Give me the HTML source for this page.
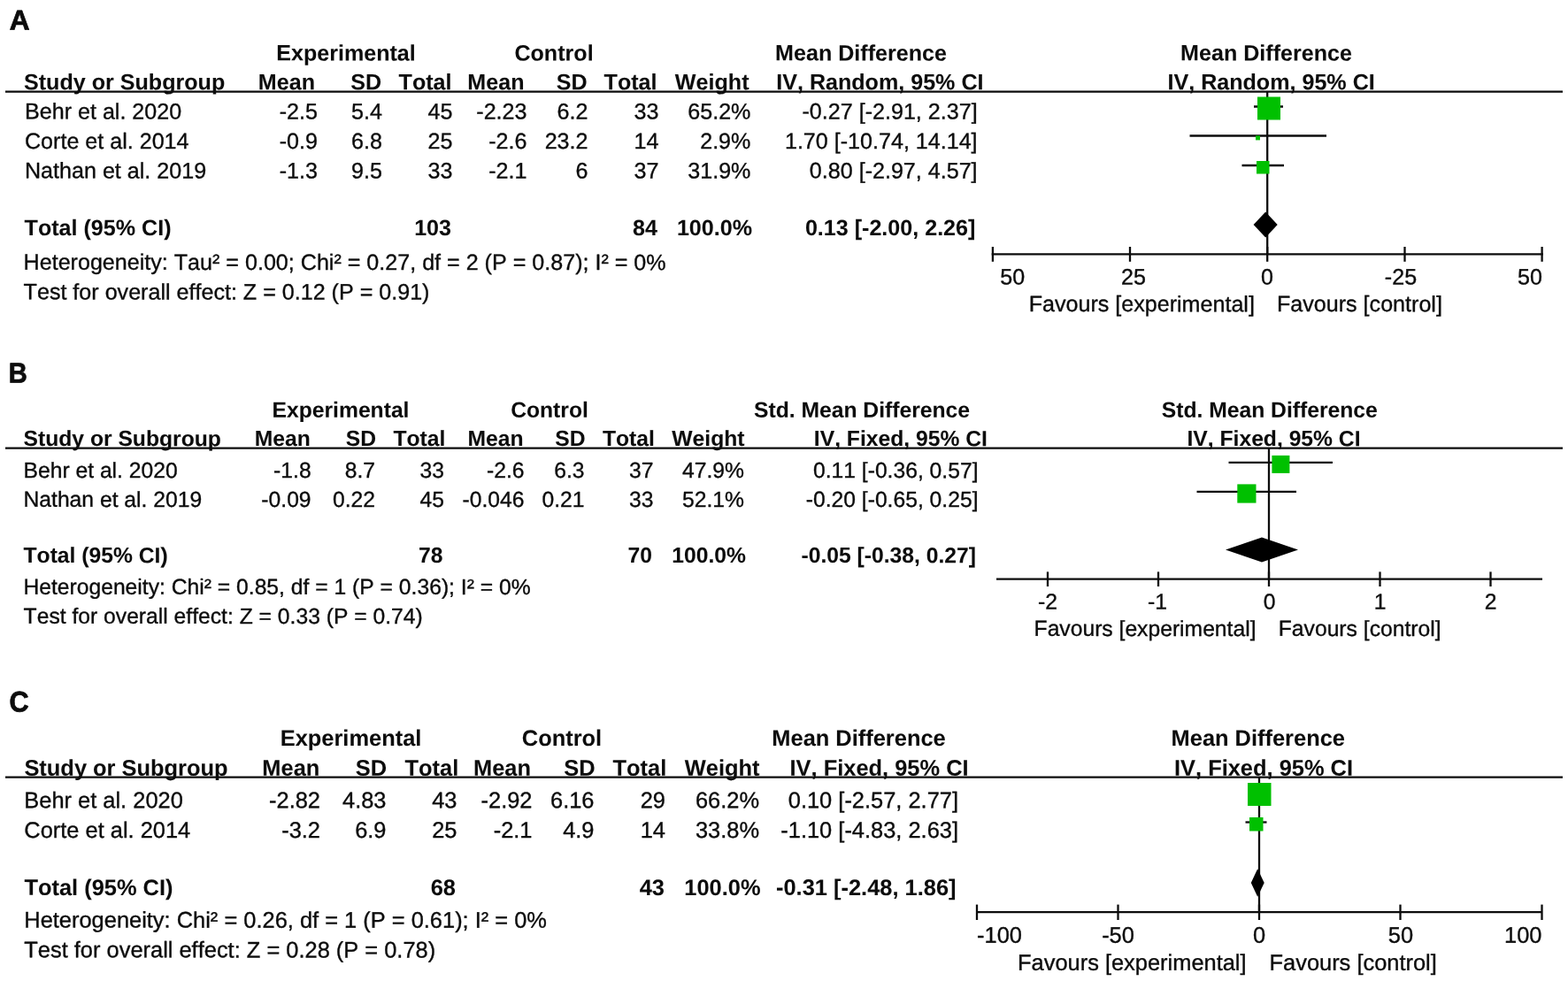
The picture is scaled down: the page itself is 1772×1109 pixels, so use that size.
<!DOCTYPE html>
<html lang="en">
<head>
<meta charset="utf-8">
<title>Forest plots</title>
<style>
html,body{margin:0;padding:0;background:#fff;}
body{width:1772px;height:1109px;overflow:hidden;}
svg{display:block;font-family:"Liberation Sans",Arial,Helvetica,sans-serif;}
text{fill:#0c0c0c;stroke:#0c0c0c;stroke-width:0.36px;stroke-linejoin:round;font-kerning:none;font-variant-ligatures:none;}
text.b{font-weight:700;stroke:#0c0c0c;stroke-width:0.06px;}
text.lab{font-weight:700;stroke:#0c0c0c;stroke-width:0.75px;}
</style>
</head>
<body>
<svg width="1772" height="1109" viewBox="0 0 1772 1109">
<rect x="0" y="0" width="1772" height="1109" fill="#ffffff"/>
<g id="panelA">
<text transform="matrix(1.0 0.0005 0 1.0 10.8 33.5)" font-size="31.6" class="lab">A</text>
<text transform="matrix(1 0.0005 0 1.0 391 68.4)" font-size="25.1" class="b" text-anchor="middle">Experimental</text>
<text transform="matrix(1 0.0005 0 1.0 626 68.4)" font-size="25.1" class="b" text-anchor="middle">Control</text>
<text transform="matrix(1 0.0005 0 1.0 973 68.4)" font-size="25.1" class="b" text-anchor="middle">Mean Difference</text>
<text transform="matrix(1 0.0005 0 1.0 1431 68.4)" font-size="25.1" class="b" text-anchor="middle">Mean Difference</text>
<text transform="matrix(1 0.0005 0 1.0 27 101.25)" font-size="25.1" class="b">Study or Subgroup</text>
<text transform="matrix(1 0.0005 0 1.0 356 101.31)" font-size="25.1" class="b" text-anchor="end">Mean</text>
<text transform="matrix(1 0.0005 0 1.0 431 101.31)" font-size="25.1" class="b" text-anchor="end">SD</text>
<text transform="matrix(1 0.0005 0 1.0 510.5 101.32)" font-size="25.1" class="b" text-anchor="end">Total</text>
<text transform="matrix(1 0.0005 0 1.0 592.5 101.31)" font-size="25.1" class="b" text-anchor="end">Mean</text>
<text transform="matrix(1 0.0005 0 1.0 663.5 101.31)" font-size="25.1" class="b" text-anchor="end">SD</text>
<text transform="matrix(1 0.0005 0 1.0 742.5 101.32)" font-size="25.1" class="b" text-anchor="end">Total</text>
<text transform="matrix(1 0.0005 0 1.0 846.5 101.32)" font-size="25.1" class="b" text-anchor="end">Weight</text>
<text transform="matrix(1 0.0005 0 1.0 1111.5 101.36)" font-size="25.1" class="b" text-anchor="end">IV, Random, 95% CI</text>
<text transform="matrix(1 0.0005 0 1.0 1436.6 101.3)" font-size="25.1" class="b" text-anchor="middle">IV, Random, 95% CI</text>
<line x1="6" y1="103.7" x2="1766" y2="103.7" stroke="#0c0c0c" stroke-width="2.2"/>
<text transform="matrix(1 0.0005 0 1.0 28 134.35)" font-size="25.1">Behr et al. 2020</text>
<text transform="matrix(1 0.0005 0 1.0 359 134.41)" font-size="25.1" text-anchor="end">-2.5</text>
<text transform="matrix(1 0.0005 0 1.0 432 134.41)" font-size="25.1" text-anchor="end">5.4</text>
<text transform="matrix(1 0.0005 0 1.0 511.5 134.41)" font-size="25.1" text-anchor="end">45</text>
<text transform="matrix(1 0.0005 0 1.0 595.5 134.42)" font-size="25.1" text-anchor="end">-2.23</text>
<text transform="matrix(1 0.0005 0 1.0 664.5 134.41)" font-size="25.1" text-anchor="end">6.2</text>
<text transform="matrix(1 0.0005 0 1.0 744.5 134.41)" font-size="25.1" text-anchor="end">33</text>
<text transform="matrix(1 0.0005 0 1.0 848.4 134.42)" font-size="25.1" text-anchor="end">65.2%</text>
<text transform="matrix(1 0.0005 0 1.0 1104.6 134.46)" font-size="25.1" text-anchor="end">-0.27 [-2.91, 2.37]</text>
<text transform="matrix(1 0.0005 0 1.0 28 167.95)" font-size="25.1">Corte et al. 2014</text>
<text transform="matrix(1 0.0005 0 1.0 359 168.01)" font-size="25.1" text-anchor="end">-0.9</text>
<text transform="matrix(1 0.0005 0 1.0 432 168.01)" font-size="25.1" text-anchor="end">6.8</text>
<text transform="matrix(1 0.0005 0 1.0 511.5 168.01)" font-size="25.1" text-anchor="end">25</text>
<text transform="matrix(1 0.0005 0 1.0 595.5 168.01)" font-size="25.1" text-anchor="end">-2.6</text>
<text transform="matrix(1 0.0005 0 1.0 664.5 168.01)" font-size="25.1" text-anchor="end">23.2</text>
<text transform="matrix(1 0.0005 0 1.0 744.5 168.01)" font-size="25.1" text-anchor="end">14</text>
<text transform="matrix(1 0.0005 0 1.0 848.4 168.01)" font-size="25.1" text-anchor="end">2.9%</text>
<text transform="matrix(1 0.0005 0 1.0 1104.6 168.06)" font-size="25.1" text-anchor="end">1.70 [-10.74, 14.14]</text>
<text transform="matrix(1 0.0005 0 1.0 28 201.34)" font-size="25.1">Nathan et al. 2019</text>
<text transform="matrix(1 0.0005 0 1.0 359 201.41)" font-size="25.1" text-anchor="end">-1.3</text>
<text transform="matrix(1 0.0005 0 1.0 432 201.41)" font-size="25.1" text-anchor="end">9.5</text>
<text transform="matrix(1 0.0005 0 1.0 511.5 201.41)" font-size="25.1" text-anchor="end">33</text>
<text transform="matrix(1 0.0005 0 1.0 595.5 201.41)" font-size="25.1" text-anchor="end">-2.1</text>
<text transform="matrix(1 0.0005 0 1.0 664.5 201.4)" font-size="25.1" text-anchor="end">6</text>
<text transform="matrix(1 0.0005 0 1.0 744.5 201.41)" font-size="25.1" text-anchor="end">37</text>
<text transform="matrix(1 0.0005 0 1.0 848.4 201.42)" font-size="25.1" text-anchor="end">31.9%</text>
<text transform="matrix(1 0.0005 0 1.0 1104.6 201.46)" font-size="25.1" text-anchor="end">0.80 [-2.97, 4.57]</text>
<text transform="matrix(1 0.0005 0 1.0 27.6 265.96)" font-size="25.1" class="b">Total (95% CI)</text>
<text transform="matrix(1 0.0005 0 1.0 510 266.01)" font-size="25.1" class="b" text-anchor="end">103</text>
<text transform="matrix(1 0.0005 0 1.0 743 266.01)" font-size="25.1" class="b" text-anchor="end">84</text>
<text transform="matrix(1 0.0005 0 1.0 850 266.02)" font-size="25.1" class="b" text-anchor="end">100.0%</text>
<text transform="matrix(1 0.0005 0 1.0 1102.4 266.06)" font-size="25.1" class="b" text-anchor="end">0.13 [-2.00, 2.26]</text>
<text transform="matrix(1 0.0005 0 1.0 26.6 304.79)" font-size="25.1">Heterogeneity: Tau² = 0.00; Chi² = 0.27, df = 2 (P = 0.87); I² = 0%</text>
<text transform="matrix(1 0.0005 0 1.0 26.6 338.36)" font-size="25.1">Test for overall effect: Z = 0.12 (P = 0.91)</text>
<line x1="1417" y1="120.5" x2="1450" y2="120.5" stroke="#0c0c0c" stroke-width="2.3"/>
<line x1="1344.5" y1="153.5" x2="1499" y2="153.5" stroke="#0c0c0c" stroke-width="2.3"/>
<line x1="1403.5" y1="187" x2="1451" y2="187" stroke="#0c0c0c" stroke-width="2.3"/>
<line x1="1432.2" y1="103.7" x2="1432.2" y2="287.3" stroke="#0c0c0c" stroke-width="2.3"/>
<line x1="1120.7" y1="287.3" x2="1743.8" y2="287.3" stroke="#0c0c0c" stroke-width="2.3"/>
<line x1="1121.9" y1="279" x2="1121.9" y2="295.8" stroke="#0c0c0c" stroke-width="2.3"/>
<line x1="1277" y1="279" x2="1277" y2="295.8" stroke="#0c0c0c" stroke-width="2.3"/>
<line x1="1432.2" y1="279" x2="1432.2" y2="295.8" stroke="#0c0c0c" stroke-width="2.3"/>
<line x1="1587.5" y1="279" x2="1587.5" y2="295.8" stroke="#0c0c0c" stroke-width="2.3"/>
<line x1="1742.6" y1="279" x2="1742.6" y2="295.8" stroke="#0c0c0c" stroke-width="2.3"/>
<rect x="1421" y="109.5" width="26" height="26" fill="#00c000"/>
<rect x="1419" y="153.4" width="5" height="5" fill="#00c000"/>
<rect x="1420" y="182" width="14.5" height="14.5" fill="#00c000"/>
<polygon points="1416.6,254.1 1430.2,239.6 1443.7,254.1 1430.2,268.6" fill="#000"/>
<text transform="matrix(1 0.0005 0 1.0 1130.2 321.59)" font-size="25.1">50</text>
<text transform="matrix(1 0.0005 0 1.0 1281 321.6)" font-size="25.1" text-anchor="middle">25</text>
<text transform="matrix(1 0.0005 0 1.0 1432 321.6)" font-size="25.1" text-anchor="middle">0</text>
<text transform="matrix(1 0.0005 0 1.0 1583 321.6)" font-size="25.1" text-anchor="middle">-25</text>
<text transform="matrix(1 0.0005 0 1.0 1743 321.61)" font-size="25.1" text-anchor="end">50</text>
<text transform="matrix(1 0.0005 0 1.0 1417.9 352.17)" font-size="25.1" text-anchor="end">Favours [experimental]</text>
<text transform="matrix(1 0.0005 0 1.0 1443 352.05)" font-size="25.1">Favours [control]</text>
</g>
<g id="panelB">
<text transform="matrix(0.91 0.0005 0 1.0 9.8 432.5)" font-size="32.0" class="lab">B</text>
<text transform="matrix(1 0.0005 0 1.0 385 471.7)" font-size="24.68" class="b" text-anchor="middle">Experimental</text>
<text transform="matrix(1 0.0005 0 1.0 621 471.7)" font-size="24.68" class="b" text-anchor="middle">Control</text>
<text transform="matrix(1 0.0005 0 1.0 974 471.7)" font-size="24.68" class="b" text-anchor="middle">Std. Mean Difference</text>
<text transform="matrix(1 0.0005 0 1.0 1434.75 471.7)" font-size="24.68" class="b" text-anchor="middle">Std. Mean Difference</text>
<text transform="matrix(1 0.0005 0 1.0 26.5 504.05)" font-size="24.68" class="b">Study or Subgroup</text>
<text transform="matrix(1 0.0005 0 1.0 350.9 504.11)" font-size="24.68" class="b" text-anchor="end">Mean</text>
<text transform="matrix(1 0.0005 0 1.0 425.1 504.11)" font-size="24.68" class="b" text-anchor="end">SD</text>
<text transform="matrix(1 0.0005 0 1.0 503.4 504.12)" font-size="24.68" class="b" text-anchor="end">Total</text>
<text transform="matrix(1 0.0005 0 1.0 591.5 504.11)" font-size="24.68" class="b" text-anchor="end">Mean</text>
<text transform="matrix(1 0.0005 0 1.0 661.5 504.11)" font-size="24.68" class="b" text-anchor="end">SD</text>
<text transform="matrix(1 0.0005 0 1.0 739.9 504.12)" font-size="24.68" class="b" text-anchor="end">Total</text>
<text transform="matrix(1 0.0005 0 1.0 841.5 504.12)" font-size="24.68" class="b" text-anchor="end">Weight</text>
<text transform="matrix(1 0.0005 0 1.0 1115.9 504.15)" font-size="24.68" class="b" text-anchor="end">IV, Fixed, 95% CI</text>
<text transform="matrix(1 0.0005 0 1.0 1439.5 504.1)" font-size="24.68" class="b" text-anchor="middle">IV, Fixed, 95% CI</text>
<line x1="6" y1="506.7" x2="1766" y2="506.7" stroke="#0c0c0c" stroke-width="2.2"/>
<text transform="matrix(1 0.0005 0 1.0 26.5 540.05)" font-size="24.68">Behr et al. 2020</text>
<text transform="matrix(1 0.0005 0 1.0 351.6 540.11)" font-size="24.68" text-anchor="end">-1.8</text>
<text transform="matrix(1 0.0005 0 1.0 424 540.11)" font-size="24.68" text-anchor="end">8.7</text>
<text transform="matrix(1 0.0005 0 1.0 502 540.11)" font-size="24.68" text-anchor="end">33</text>
<text transform="matrix(1 0.0005 0 1.0 592.5 540.11)" font-size="24.68" text-anchor="end">-2.6</text>
<text transform="matrix(1 0.0005 0 1.0 660.5 540.11)" font-size="24.68" text-anchor="end">6.3</text>
<text transform="matrix(1 0.0005 0 1.0 738.5 540.11)" font-size="24.68" text-anchor="end">37</text>
<text transform="matrix(1 0.0005 0 1.0 841 540.12)" font-size="24.68" text-anchor="end">47.9%</text>
<text transform="matrix(1 0.0005 0 1.0 1105.5 540.16)" font-size="24.68" text-anchor="end">0.11 [-0.36, 0.57]</text>
<text transform="matrix(1 0.0005 0 1.0 26.5 572.84)" font-size="24.68">Nathan et al. 2019</text>
<text transform="matrix(1 0.0005 0 1.0 351.6 572.92)" font-size="24.68" text-anchor="end">-0.09</text>
<text transform="matrix(1 0.0005 0 1.0 424 572.91)" font-size="24.68" text-anchor="end">0.22</text>
<text transform="matrix(1 0.0005 0 1.0 502 572.91)" font-size="24.68" text-anchor="end">45</text>
<text transform="matrix(1 0.0005 0 1.0 592.5 572.92)" font-size="24.68" text-anchor="end">-0.046</text>
<text transform="matrix(1 0.0005 0 1.0 660.5 572.91)" font-size="24.68" text-anchor="end">0.21</text>
<text transform="matrix(1 0.0005 0 1.0 738.5 572.91)" font-size="24.68" text-anchor="end">33</text>
<text transform="matrix(1 0.0005 0 1.0 841 572.92)" font-size="24.68" text-anchor="end">52.1%</text>
<text transform="matrix(1 0.0005 0 1.0 1105.5 572.96)" font-size="24.68" text-anchor="end">-0.20 [-0.65, 0.25]</text>
<text transform="matrix(1 0.0005 0 1.0 26.5 636.06)" font-size="24.68" class="b">Total (95% CI)</text>
<text transform="matrix(1 0.0005 0 1.0 500.5 636.11)" font-size="24.68" class="b" text-anchor="end">78</text>
<text transform="matrix(1 0.0005 0 1.0 737 636.11)" font-size="24.68" class="b" text-anchor="end">70</text>
<text transform="matrix(1 0.0005 0 1.0 843 636.12)" font-size="24.68" class="b" text-anchor="end">100.0%</text>
<text transform="matrix(1 0.0005 0 1.0 1103 636.16)" font-size="24.68" class="b" text-anchor="end">-0.05 [-0.38, 0.27]</text>
<text transform="matrix(1 0.0005 0 1.0 26.4 671.63)" font-size="24.68">Heterogeneity: Chi² = 0.85, df = 1 (P = 0.36); I² = 0%</text>
<text transform="matrix(1 0.0005 0 1.0 26.6 704.76)" font-size="24.68">Test for overall effect: Z = 0.33 (P = 0.74)</text>
<line x1="1388.5" y1="522.8" x2="1506" y2="522.8" stroke="#0c0c0c" stroke-width="2.3"/>
<line x1="1352.5" y1="555.9" x2="1465" y2="555.9" stroke="#0c0c0c" stroke-width="2.3"/>
<line x1="1434" y1="506.7" x2="1434" y2="654.6" stroke="#0c0c0c" stroke-width="2.3"/>
<line x1="1126" y1="654.6" x2="1743" y2="654.6" stroke="#0c0c0c" stroke-width="2.3"/>
<line x1="1184" y1="646.4" x2="1184" y2="663" stroke="#0c0c0c" stroke-width="2.3"/>
<line x1="1309" y1="646.4" x2="1309" y2="663" stroke="#0c0c0c" stroke-width="2.3"/>
<line x1="1434" y1="646.4" x2="1434" y2="663" stroke="#0c0c0c" stroke-width="2.3"/>
<line x1="1559.5" y1="646.4" x2="1559.5" y2="663" stroke="#0c0c0c" stroke-width="2.3"/>
<line x1="1684.5" y1="646.4" x2="1684.5" y2="663" stroke="#0c0c0c" stroke-width="2.3"/>
<rect x="1437.4" y="514.9" width="20" height="20" fill="#00c000"/>
<rect x="1398.3" y="547.4" width="21.2" height="21.2" fill="#00c000"/>
<polygon points="1385,621.5 1426,607.5 1467,621.5 1426,635.5" fill="#000"/>
<text transform="matrix(1 0.0005 0 1.0 1183.9 688.5)" font-size="24.68" text-anchor="middle">-2</text>
<text transform="matrix(1 0.0005 0 1.0 1308 688.5)" font-size="24.68" text-anchor="middle">-1</text>
<text transform="matrix(1 0.0005 0 1.0 1434.5 688.5)" font-size="24.68" text-anchor="middle">0</text>
<text transform="matrix(1 0.0005 0 1.0 1559.5 688.5)" font-size="24.68" text-anchor="middle">1</text>
<text transform="matrix(1 0.0005 0 1.0 1684.5 688.5)" font-size="24.68" text-anchor="middle">2</text>
<text transform="matrix(1 0.0005 0 1.0 1419.5 718.97)" font-size="24.68" text-anchor="end">Favours [experimental]</text>
<text transform="matrix(1 0.0005 0 1.0 1444.8 718.85)" font-size="24.68">Favours [control]</text>
</g>
<g id="panelC">
<text transform="matrix(0.938 0.0005 0 1.0 10.56 804.4)" font-size="32.7" class="lab">C</text>
<text transform="matrix(1 0.0005 0 1.0 396.5 843.0)" font-size="25.43" class="b" text-anchor="middle">Experimental</text>
<text transform="matrix(1 0.0005 0 1.0 635 843.0)" font-size="25.43" class="b" text-anchor="middle">Control</text>
<text transform="matrix(1 0.0005 0 1.0 970.5 843.0)" font-size="25.43" class="b" text-anchor="middle">Mean Difference</text>
<text transform="matrix(1 0.0005 0 1.0 1421.75 843.0)" font-size="25.43" class="b" text-anchor="middle">Mean Difference</text>
<text transform="matrix(1 0.0005 0 1.0 27.4 876.75)" font-size="25.43" class="b">Study or Subgroup</text>
<text transform="matrix(1 0.0005 0 1.0 361.3 876.81)" font-size="25.43" class="b" text-anchor="end">Mean</text>
<text transform="matrix(1 0.0005 0 1.0 437.2 876.81)" font-size="25.43" class="b" text-anchor="end">SD</text>
<text transform="matrix(1 0.0005 0 1.0 518.2 876.82)" font-size="25.43" class="b" text-anchor="end">Total</text>
<text transform="matrix(1 0.0005 0 1.0 600 876.81)" font-size="25.43" class="b" text-anchor="end">Mean</text>
<text transform="matrix(1 0.0005 0 1.0 672.5 876.81)" font-size="25.43" class="b" text-anchor="end">SD</text>
<text transform="matrix(1 0.0005 0 1.0 753.3 876.82)" font-size="25.43" class="b" text-anchor="end">Total</text>
<text transform="matrix(1 0.0005 0 1.0 858.5 876.82)" font-size="25.43" class="b" text-anchor="end">Weight</text>
<text transform="matrix(1 0.0005 0 1.0 1094.6 876.85)" font-size="25.43" class="b" text-anchor="end">IV, Fixed, 95% CI</text>
<text transform="matrix(1 0.0005 0 1.0 1428 876.8)" font-size="25.43" class="b" text-anchor="middle">IV, Fixed, 95% CI</text>
<line x1="6" y1="878.7" x2="1766" y2="878.7" stroke="#0c0c0c" stroke-width="2.2"/>
<text transform="matrix(1 0.0005 0 1.0 27.3 913.25)" font-size="25.43">Behr et al. 2020</text>
<text transform="matrix(1 0.0005 0 1.0 362 913.32)" font-size="25.43" text-anchor="end">-2.82</text>
<text transform="matrix(1 0.0005 0 1.0 436.5 913.31)" font-size="25.43" text-anchor="end">4.83</text>
<text transform="matrix(1 0.0005 0 1.0 516.5 913.31)" font-size="25.43" text-anchor="end">43</text>
<text transform="matrix(1 0.0005 0 1.0 601.5 913.32)" font-size="25.43" text-anchor="end">-2.92</text>
<text transform="matrix(1 0.0005 0 1.0 671.5 913.31)" font-size="25.43" text-anchor="end">6.16</text>
<text transform="matrix(1 0.0005 0 1.0 752 913.31)" font-size="25.43" text-anchor="end">29</text>
<text transform="matrix(1 0.0005 0 1.0 858 913.32)" font-size="25.43" text-anchor="end">66.2%</text>
<text transform="matrix(1 0.0005 0 1.0 1083 913.36)" font-size="25.43" text-anchor="end">0.10 [-2.57, 2.77]</text>
<text transform="matrix(1 0.0005 0 1.0 27.3 946.95)" font-size="25.43">Corte et al. 2014</text>
<text transform="matrix(1 0.0005 0 1.0 362 947.01)" font-size="25.43" text-anchor="end">-3.2</text>
<text transform="matrix(1 0.0005 0 1.0 436.5 947.01)" font-size="25.43" text-anchor="end">6.9</text>
<text transform="matrix(1 0.0005 0 1.0 516.5 947.01)" font-size="25.43" text-anchor="end">25</text>
<text transform="matrix(1 0.0005 0 1.0 601.5 947.01)" font-size="25.43" text-anchor="end">-2.1</text>
<text transform="matrix(1 0.0005 0 1.0 671.5 947.01)" font-size="25.43" text-anchor="end">4.9</text>
<text transform="matrix(1 0.0005 0 1.0 752 947.01)" font-size="25.43" text-anchor="end">14</text>
<text transform="matrix(1 0.0005 0 1.0 858 947.02)" font-size="25.43" text-anchor="end">33.8%</text>
<text transform="matrix(1 0.0005 0 1.0 1083 947.06)" font-size="25.43" text-anchor="end">-1.10 [-4.83, 2.63]</text>
<text transform="matrix(1 0.0005 0 1.0 27.4 1011.86)" font-size="25.43" class="b">Total (95% CI)</text>
<text transform="matrix(1 0.0005 0 1.0 515 1011.91)" font-size="25.43" class="b" text-anchor="end">68</text>
<text transform="matrix(1 0.0005 0 1.0 751 1011.91)" font-size="25.43" class="b" text-anchor="end">43</text>
<text transform="matrix(1 0.0005 0 1.0 859.5 1011.92)" font-size="25.43" class="b" text-anchor="end">100.0%</text>
<text transform="matrix(1 0.0005 0 1.0 1080.5 1011.96)" font-size="25.43" class="b" text-anchor="end">-0.31 [-2.48, 1.86]</text>
<text transform="matrix(1 0.0005 0 1.0 27.3 1048.53)" font-size="25.43">Heterogeneity: Chi² = 0.26, df = 1 (P = 0.61); I² = 0%</text>
<text transform="matrix(1 0.0005 0 1.0 27.3 1082.26)" font-size="25.43">Test for overall effect: Z = 0.28 (P = 0.78)</text>
<line x1="1407.5" y1="929.5" x2="1431.5" y2="929.5" stroke="#0c0c0c" stroke-width="2.3"/>
<line x1="1423" y1="878.7" x2="1423" y2="1031.2" stroke="#0c0c0c" stroke-width="2.3"/>
<line x1="1104" y1="1031.2" x2="1742.5" y2="1031.2" stroke="#0c0c0c" stroke-width="2.3"/>
<line x1="1104" y1="1022.6" x2="1104" y2="1040" stroke="#0c0c0c" stroke-width="2.3"/>
<line x1="1263.5" y1="1022.6" x2="1263.5" y2="1040" stroke="#0c0c0c" stroke-width="2.3"/>
<line x1="1423" y1="1022.6" x2="1423" y2="1040" stroke="#0c0c0c" stroke-width="2.3"/>
<line x1="1582.5" y1="1022.6" x2="1582.5" y2="1040" stroke="#0c0c0c" stroke-width="2.3"/>
<line x1="1742.5" y1="1022.6" x2="1742.5" y2="1040" stroke="#0c0c0c" stroke-width="2.3"/>
<rect x="1410" y="885" width="26.5" height="26" fill="#00c000"/>
<rect x="1412" y="924" width="15.5" height="15.5" fill="#00c000"/>
<polygon points="1413.8,998 1421.2,982.3 1428.7,998 1421.2,1013.8" fill="#000"/>
<text transform="matrix(1 0.0005 0 1.0 1104.1 1065.69)" font-size="25.43">-100</text>
<text transform="matrix(1 0.0005 0 1.0 1263.5 1065.7)" font-size="25.43" text-anchor="middle">-50</text>
<text transform="matrix(1 0.0005 0 1.0 1423 1065.7)" font-size="25.43" text-anchor="middle">0</text>
<text transform="matrix(1 0.0005 0 1.0 1583.0 1065.7)" font-size="25.43" text-anchor="middle">50</text>
<text transform="matrix(1 0.0005 0 1.0 1742.5 1065.71)" font-size="25.43" text-anchor="end">100</text>
<text transform="matrix(1 0.0005 0 1.0 1408.6 1096.87)" font-size="25.43" text-anchor="end">Favours [experimental]</text>
<text transform="matrix(1 0.0005 0 1.0 1434.5 1096.75)" font-size="25.43">Favours [control]</text>
</g>
</svg>
</body>
</html>
